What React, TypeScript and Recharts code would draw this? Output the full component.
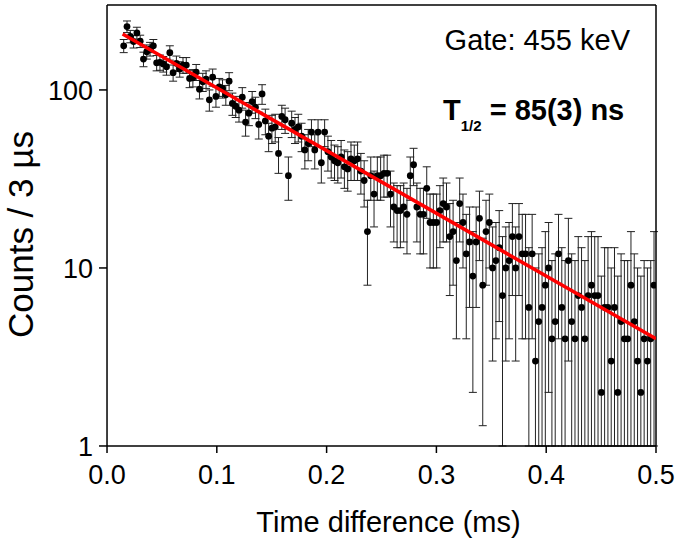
import { ErrorBar, Scatter, ScatterChart, XAxis, YAxis } from "recharts";

// Counts per 3 µs bin (first bin ≈ 0.015 ms).
const COUNTS = [
  177, 227, 200, 187, 209, 188, 149, 164, 170, 177,
  142, 143, 140, 135, 162, 125, 141, 131, 138, 138,
  116, 117, 126, 101, 111, 115, 88, 118, 92, 104,
  102, 94, 112, 84, 81, 77, 91, 66, 74, 86,
  80, 64, 95, 67, 55, 61, 62, 44, 71, 68,
  33, 65, 60, 62, 55, 46, 50, 58, 46, 58,
  39, 58, 45, 42, 40, 39, 42, 37, 36, 41,
  40, 41, 35, 31, 16, 33, 26, 33, 33, 34,
  34, 26, 22, 21, 21, 22, 20, 33, 38, 22,
  20, 20, 28, 18, 18, 18, 21, 23, 22, 15,
  16, 11, 23, 18, 12, 14, 9, 14, 19, 8,
  16, 18, 10, 11, 13, 7, 10, 11, 15, 10,
  15, 12, 12, 6, 12, 3, 5, 6, 8, 10,
  4, 5, 12, 6, 4, 11, 5, 4, 7, 6,
  4, 7, 8, 7, 7, 2, 6, 6, 3, 6,
  2, 5, 4, 4, 8, 5, 3, 2, 4, 3,
  4, 8,
];

// Error bar half-lengths.
const ERRORS = [
  15, 17, 16, 15, 16, 15, 14, 15, 15, 15,
  14, 14, 14, 14, 15, 13, 14, 13, 14, 14,
  13, 13, 13, 12, 13, 13, 12, 13, 12, 12,
  12, 12, 13, 12, 11, 11, 12, 11, 11, 12,
  11, 11, 12, 11, 10, 11, 11, 10, 11, 11,
  9, 11, 10, 11, 10, 10, 10, 10, 10, 10,
  9, 10, 10, 10, 9, 9, 10, 9, 9, 10,
  9, 10, 9, 9, 8, 9, 9, 9, 9, 9,
  9, 9, 8, 8, 8, 8, 8, 9, 9, 8,
  8, 8, 9, 8, 8, 8, 8, 9, 8, 8,
  8, 7, 9, 8, 8, 8, 7, 8, 8, 6.7,
  8, 8, 7, 7, 8, 8, 7, 7, 8, 7,
  8, 8, 8, 7, 8, 7, 7, 7, 8, 8,
  7, 7, 8, 7, 7, 8, 7, 7, 8, 7,
  7, 8, 8, 8, 8, 7, 7, 7, 7, 7,
  7, 7, 7, 7, 8, 7, 7, 7, 7, 7,
  7, 8,
];

const FIRST_BIN_MS = 0.0152;
const BIN_WIDTH_MS = 0.003;

// Exponential fit (straight on the log axis), end points.
const FIT_TIMES = [0.0142, 0.5];
const FIT_COUNTS = [206, 4.0];

const X_MAJOR = [0, 0.1, 0.2, 0.3, 0.4, 0.5];
const X_MINOR = [0.05, 0.15, 0.25, 0.35, 0.45];
const Y_MAJOR = [1, 10, 100];
const Y_MINOR = [2, 3, 4, 5, 6, 7, 8, 9, 20, 30, 40, 50, 60, 70, 80, 90, 200];

const FONT = '"Liberation Sans", Arial, Helvetica, sans-serif';
const INK = "#000";
const AXIS_STROKE = { stroke: INK, strokeWidth: 1.5 };

const X_DOMAIN: [number, number] = [0, 0.5];
const Y_DOMAIN: [number, number] = [1, 300];

// Bars whose lower end falls below the axis floor are cut at the floor
// (the error bars don't get clipped by the plot area).
const points = COUNTS.map((n, i) => {
  const err = ERRORS[i];
  const low = Math.min(err, n - Y_DOMAIN[0]);
  return { t: FIRST_BIN_MS + i * BIN_WIDTH_MS, n, err: [low, err] };
});
const fit = FIT_TIMES.map((t, i) => ({ t, n: FIT_COUNTS[i] }));

export default function App() {
  return (
    <div style={{ position: "absolute", left: 0, top: 0, width: 679, height: 542, fontFamily: FONT }}>
      <ScatterChart width={679} height={542} margin={{ top: 5, right: 23, bottom: 96, left: 107 }}>
        {/* bottom axis: labelled majors + short minors, ticks outward */}
        <XAxis
          xAxisId="x"
          type="number"
          dataKey="t"
          domain={X_DOMAIN}
          allowDataOverflow
          ticks={X_MAJOR}
          tickFormatter={(v: number) => v.toFixed(1)}
          height={0.01}
          tickSize={7}
          tickMargin={12}
          axisLine={AXIS_STROKE}
          tickLine={AXIS_STROKE}
          tick={{ fill: INK, fontSize: 27, fontFamily: FONT }}
        />
        <XAxis
          xAxisId="xm"
          type="number"
          domain={X_DOMAIN}
          allowDataOverflow
          ticks={X_MINOR}
          height={0.01}
          tickSize={4}
          axisLine={false}
          tickLine={AXIS_STROKE}
          tick={false}
        />
        {/* top frame: mirrored ticks pointing into the plot */}
        <XAxis
          xAxisId="xt"
          orientation="top"
          mirror
          type="number"
          domain={X_DOMAIN}
          allowDataOverflow
          ticks={X_MAJOR}
          height={0.01}
          tickSize={7}
          axisLine={AXIS_STROKE}
          tickLine={AXIS_STROKE}
          tick={false}
        />
        <XAxis
          xAxisId="xtm"
          orientation="top"
          mirror
          type="number"
          domain={X_DOMAIN}
          allowDataOverflow
          ticks={X_MINOR}
          height={0.01}
          tickSize={4}
          axisLine={false}
          tickLine={AXIS_STROKE}
          tick={false}
        />
        {/* left log axis */}
        <YAxis
          yAxisId="y"
          type="number"
          dataKey="n"
          scale="log"
          domain={Y_DOMAIN}
          allowDataOverflow
          ticks={Y_MAJOR}
          width={0.01}
          tickSize={8}
          tickMargin={6}
          axisLine={AXIS_STROKE}
          tickLine={AXIS_STROKE}
          tick={{ fill: INK, fontSize: 27, fontFamily: FONT }}
        />
        <YAxis
          yAxisId="ym"
          type="number"
          scale="log"
          domain={Y_DOMAIN}
          allowDataOverflow
          ticks={Y_MINOR}
          width={0.01}
          tickSize={5}
          axisLine={false}
          tickLine={AXIS_STROKE}
          tick={false}
        />
        {/* right frame */}
        <YAxis
          yAxisId="yr"
          orientation="right"
          mirror
          type="number"
          scale="log"
          domain={Y_DOMAIN}
          allowDataOverflow
          ticks={Y_MAJOR}
          width={0.01}
          tickSize={8}
          axisLine={AXIS_STROKE}
          tickLine={AXIS_STROKE}
          tick={false}
        />
        <YAxis
          yAxisId="yrm"
          orientation="right"
          mirror
          type="number"
          scale="log"
          domain={Y_DOMAIN}
          allowDataOverflow
          ticks={Y_MINOR}
          width={0.01}
          tickSize={5}
          axisLine={false}
          tickLine={AXIS_STROKE}
          tick={false}
        />

        <Scatter
          xAxisId="x"
          yAxisId="y"
          data={points}
          isAnimationActive={false}
          shape={(p: any) => <circle cx={p.cx} cy={p.cy} r={3.4} fill={INK} />}
        >
          <ErrorBar dataKey="err" direction="y" width={4} stroke="#222" strokeWidth={1} isAnimationActive={false} />
        </Scatter>
        <Scatter
          xAxisId="x"
          yAxisId="y"
          data={fit}
          isAnimationActive={false}
          line={{ stroke: "#ff0000", strokeWidth: 3.5 }}
          lineType="joint"
          shape={() => <g />}
        />
      </ScatterChart>

      <svg
        width={679}
        height={542}
        style={{ position: "absolute", left: 0, top: 0, pointerEvents: "none" }}
        fontFamily={FONT}
      >
        <text x={388.5} y={532} textAnchor="middle" fontSize={29} fill={INK}>
          Time difference (ms)
        </text>
        <text transform="translate(33, 338) rotate(-90)" fontSize={35} fill={INK}>
          Counts / 3 µs
        </text>
        <text x={630} y={50} textAnchor="end" fontSize={29} fill={INK}>
          Gate: 455 keV
        </text>
        <text x={443} y={120} fontSize={29} fontWeight="bold" fill={INK}>
          <tspan>T</tspan>
          <tspan fontSize={15} dy={11}>1/2</tspan>
          <tspan dy={-11}> = 85(3) ns</tspan>
        </text>
      </svg>
    </div>
  );
}
